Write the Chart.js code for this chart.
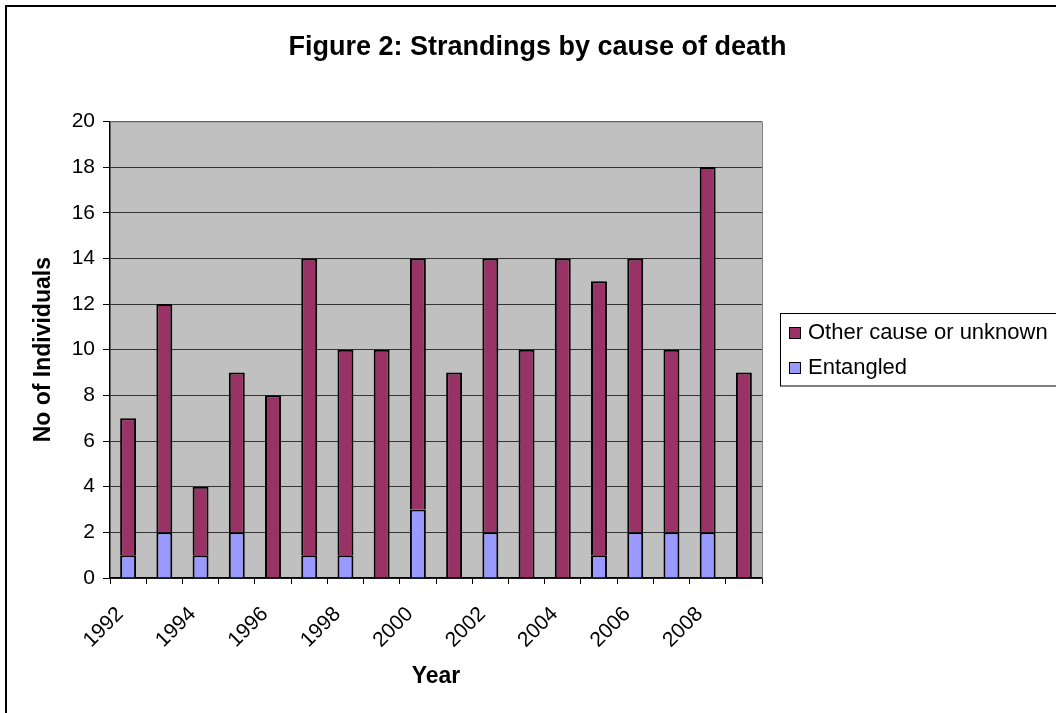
<!DOCTYPE html>
<html>
<head>
<meta charset="utf-8">
<title>Strandings by cause of death</title>
<script src="https://cdn.jsdelivr.net/npm/chart.js@4/dist/chart.umd.min.js"></script>
<style>
  html, body { margin: 0; padding: 0; background: #fff; overflow: hidden; }
  #wrap { position: absolute; left: 0; top: 0; width: 1075px; height: 713px; }
</style>
</head>
<body>
<div id="wrap"><canvas id="chart" width="1075" height="713"></canvas></div>
<script>
// Stranding counts per year, split by cause of death
const years = ['1992','1993','1994','1995','1996','1997','1998','1999','2000',
               '2001','2002','2003','2004','2005','2006','2007','2008','2009'];
const entangled = [1, 2, 1, 2, 0, 1, 1, 0, 3, 0, 2, 0, 0, 1, 2, 2, 2, 0];
const otherCause = [6, 10, 3, 7, 8, 13, 9, 10, 11, 9, 12, 10, 14, 12, 12, 8, 16, 9];
const yTicks = [0, 2, 4, 6, 8, 10, 12, 14, 16, 18, 20];

const FONT = '"Liberation Sans", Arial, "DejaVu Sans", sans-serif';

// Grey plot background, outer frame, plot border and boxed legend
const decorations = {
  id: 'decorations',
  beforeDraw(chart) {
    const { ctx, chartArea: a } = chart;
    ctx.save();
    ctx.fillStyle = '#ffffff';
    ctx.fillRect(0, 0, chart.width, chart.height);
    ctx.fillStyle = '#c0c0c0';
    ctx.fillRect(a.left, a.top, a.right - a.left, a.bottom - a.top);
    ctx.restore();
  },
  afterDraw(chart) {
    const { ctx, chartArea: a } = chart;
    ctx.save();
    // plot area border (right and top sides)
    ctx.strokeStyle = '#808080';
    ctx.lineWidth = 1;
    ctx.beginPath();
    ctx.moveTo(a.left, a.top + 0.5);
    ctx.lineTo(a.right + 0.5, a.top + 0.5);
    ctx.lineTo(a.right + 0.5, a.bottom);
    ctx.stroke();
    // chart frame
    ctx.strokeStyle = '#000000';
    ctx.lineWidth = 2;
    ctx.strokeRect(6, 6, 2000, 2000);
    // legend box
    const lx = 780.5, ly = 313.5;
    ctx.lineWidth = 1;
    ctx.strokeStyle = '#000000';
    ctx.strokeRect(lx, ly, 400, 72.5);
    const items = chart.data.datasets.slice().reverse();
    ctx.font = '22px ' + FONT;
    ctx.textBaseline = 'middle';
    ctx.textAlign = 'left';
    items.forEach((ds, i) => {
      const cy = 333 + i * 35;
      ctx.fillStyle = ds.backgroundColor;
      ctx.fillRect(789.5, cy - 5.5, 11, 11);
      ctx.strokeStyle = '#000000';
      ctx.strokeRect(789.5, cy - 5.5, 11, 11);
      ctx.fillStyle = '#000000';
      ctx.fillText(ds.label, 808, cy);
    });
    ctx.restore();
  }
};

new Chart(document.getElementById('chart'), {
  type: 'bar',
  data: {
    labels: years,
    datasets: [
      {
        label: 'Entangled',
        data: entangled,
        backgroundColor: '#9999ff',
        borderColor: '#000000',
        borderWidth: 2,
        barPercentage: 0.44,
        categoryPercentage: 1.0
      },
      {
        label: 'Other cause or unknown',
        data: otherCause,
        backgroundColor: '#993366',
        borderColor: '#000000',
        borderWidth: 2,
        barPercentage: 0.44,
        categoryPercentage: 1.0
      }
    ]
  },
  options: {
    responsive: false,
    animation: false,
    layout: { padding: 0 },
    plugins: {
      legend: { display: false },
      tooltip: { enabled: false },
      title: {
        display: true,
        text: 'Figure 2: Strandings by cause of death',
        color: '#000000',
        font: { family: FONT, size: 27, weight: 'bold' },
        padding: { top: 31, bottom: 58 }
      }
    },
    scales: {
      x: {
        stacked: true,
        offset: true,
        afterFit(scale) { scale.height = 135; },
        grid: {
          display: true,
          offset: true,
          drawOnChartArea: false,
          drawTicks: true,
          tickLength: 6,
          tickColor: '#000000'
        },
        border: { display: true, color: '#000000', width: 1.5 },
        ticks: {
          autoSkip: false,
          maxRotation: 45,
          minRotation: 45,
          padding: 18,
          labelOffset: -8,
          color: '#000000',
          font: { family: FONT, size: 21 },
          callback(value, index) { return index % 2 === 0 ? years[index] : ''; }
        },
        title: {
          display: true,
          text: 'Year',
          color: '#000000',
          font: { family: FONT, size: 23, weight: 'bold' },
          padding: { top: 0, bottom: 23 }
        }
      },
      y: {
        stacked: true,
        min: 0,
        max: 20,
        afterFit(scale) { scale.width = 110; },
        afterBuildTicks(scale) { scale.ticks = yTicks.map(v => ({ value: v })); },
        grid: {
          color: '#333333',
          lineWidth: 1,
          drawTicks: true,
          tickLength: 7,
          tickColor: '#000000'
        },
        border: { display: true, color: '#000000', width: 1.5 },
        ticks: {
          padding: 8,
          color: '#000000',
          font: { family: FONT, size: 21 }
        },
        title: {
          display: true,
          text: 'No of Individuals',
          color: '#000000',
          font: { family: FONT, size: 23, weight: 'bold' },
          padding: { top: 30, bottom: 0 }
        }
      },
      legendSpace: {
        type: 'linear',
        position: 'right',
        display: true,
        afterFit(scale) { scale.width = 313; },
        grid: { display: false, drawTicks: false },
        border: { display: false },
        ticks: { display: false }
      }
    }
  },
  plugins: [decorations]
});
</script>
</body>
</html>
